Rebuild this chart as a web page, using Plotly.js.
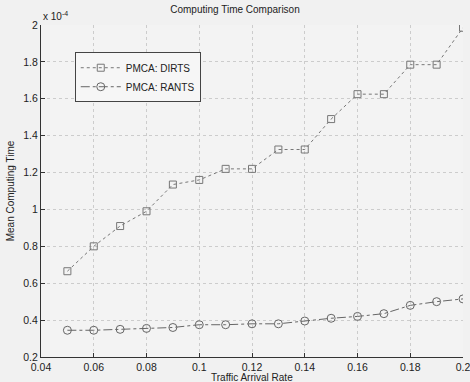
<!DOCTYPE html>
<html><head><meta charset="utf-8">
<script src="https://cdn.plot.ly/plotly-3.0.1.min.js"></script>
<style>html,body{margin:0;padding:0;background:#f1f1f1;}#c{width:470px;height:382px;}</style>
</head><body><div id="c"></div>
<script>
const rate = [0.05,0.06,0.07,0.08,0.09,0.10,0.11,0.12,0.13,0.14,0.15,0.16,0.17,0.18,0.19,0.20];
const dirts = [0.665,0.80,0.91,0.99,1.135,1.16,1.22,1.22,1.325,1.325,1.49,1.625,1.625,1.785,1.785,1.985];
const rants = [0.345,0.345,0.35,0.355,0.36,0.375,0.375,0.38,0.38,0.395,0.41,0.42,0.435,0.48,0.50,0.515];
const xTicks = [0.04,0.06,0.08,0.1,0.12,0.14,0.16,0.18,0.2];
const xTickText = ['0.04','0.06','0.08','0.1','0.12','0.14','0.16','0.18','0.2'];
const yTicks = [0.2,0.4,0.6,0.8,1,1.2,1.4,1.6,1.8,2];
const yTickText = ['0.2','0.4','0.6','0.8','1','1.2','1.4','1.6','1.8','2'];

const traces = [
 {x: rate, y: dirts, name: 'PMCA: DIRTS', mode: 'lines+markers', type: 'scatter',
  line: {color: '#777', width: 1, dash: 'dot'},
  marker: {symbol: 'square-open', size: 7, color: '#777', line: {width: 1}}},
 {x: rate, y: rants, name: 'PMCA: RANTS', mode: 'lines+markers', type: 'scatter',
  line: {color: '#666', width: 1, dash: 'dashdot'},
  marker: {symbol: 'circle-open', size: 8, color: '#666', line: {width: 1}}}
];
const gridC = '#cccccc';
const layout = {
 width: 470, height: 382,
 margin: {l: 41, r: 7, t: 25, b: 25},
 paper_bgcolor: '#f1f1f1', plot_bgcolor: '#f3f3f3',
 font: {family: 'Liberation Sans, Arial, sans-serif', size: 10, color: '#222'},
 title: {text: 'Computing Time Comparison', x: 0.5, xanchor: 'center', y: 0.975, yanchor: 'middle', font: {size: 10, color: '#222'}},
 xaxis: {range: [0.04, 0.2], tickvals: xTicks, ticktext: xTickText, ticks: 'inside', ticklen: 4,
  ticklabeloverflow: 'allow',
  showgrid: true, gridcolor: gridC, griddash: 'dot', gridwidth: 1, zeroline: false,
  showline: true, linecolor: '#333', linewidth: 1, tickcolor: '#333',
  tickfont: {size: 10.5}},
 yaxis: {range: [0.2, 2], tickvals: yTicks, ticktext: yTickText, ticks: 'inside', ticklen: 4,
  showgrid: true, gridcolor: gridC, griddash: 'dot', gridwidth: 1, zeroline: false,
  showline: true, linecolor: '#333', linewidth: 1, tickcolor: '#333',
  tickfont: {size: 10.5}, title: {text: 'Mean Computing Time', font: {size: 10}, standoff: 6}},
 showlegend: true,
 legend: {x: 0.08, y: 0.918, xanchor: 'left', yanchor: 'top', bgcolor: '#f6f6f6', bordercolor: '#444', borderwidth: 1,
  font: {size: 10}, itemwidth: 40, tracegroupgap: 4},
 annotations: [
  {text: 'x 10<sup>-4</sup>', xref: 'paper', yref: 'paper', x: 0.0, y: 1.0, xanchor: 'left', yanchor: 'bottom', showarrow: false, font: {size: 10}, yshift: 1},
  {text: 'Traffic Arrival Rate', xref: 'paper', yref: 'paper', x: 0.5, y: 0, xanchor: 'center', yanchor: 'top', showarrow: false, font: {size: 10}, yshift: -13}
 ]
};
Plotly.newPlot('c', traces, layout, {staticPlot: true});
</script></body></html>
